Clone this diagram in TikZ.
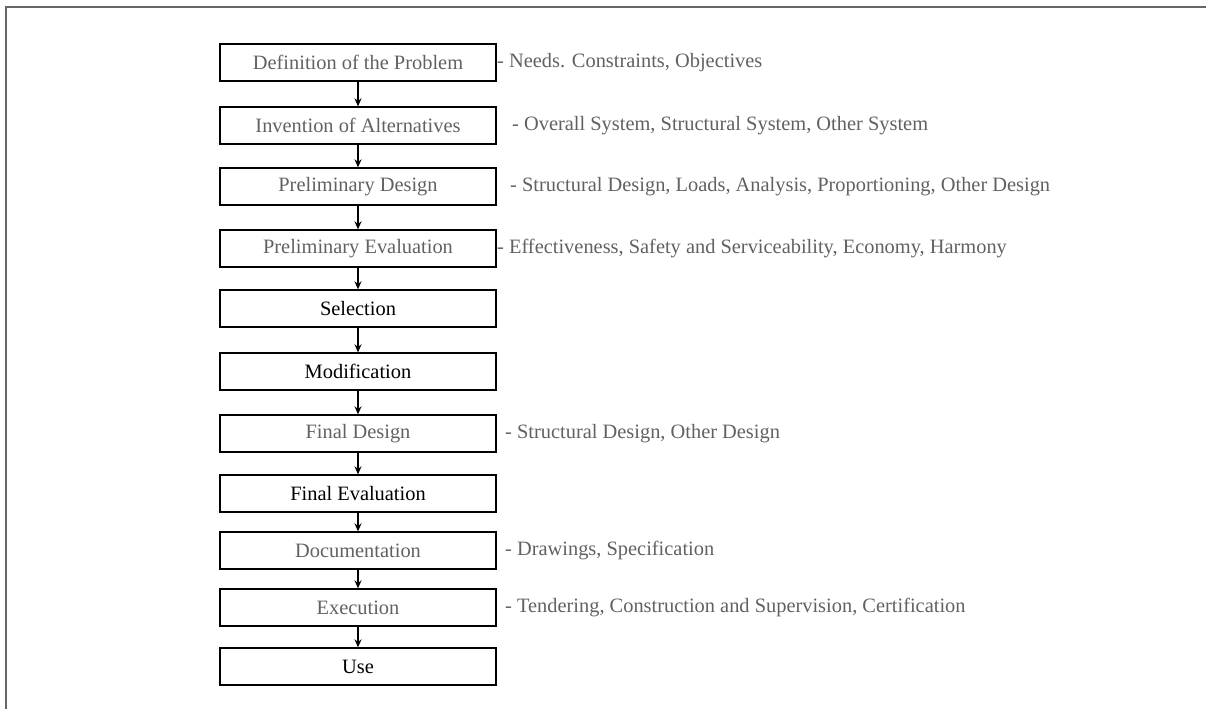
\documentclass[tikz,border=0pt]{standalone}
\usepackage{fontspec}
\setmainfont{Liberation Serif}
\usetikzlibrary{arrows.meta}
\begin{document}
\begin{tikzpicture}[x=1pt,y=-1pt,
  stepbox/.style={draw=black,line width=1.3pt,minimum width=276pt,minimum height=37pt,inner sep=0pt,font=\fontsize{20.4}{24}\selectfont},
  dimtext/.style={text=black!62},
  sidelabel/.style={anchor=west,inner sep=0pt,text=black!62,font=\fontsize{20.4}{24}\selectfont},
  flow/.style={line width=1.3pt,-{Stealth[length=8pt,width=7pt]}},
  frameline/.style={draw=black!60,line width=2pt}]
\useasboundingbox (0,0) rectangle (1206,709);
\draw[frameline] (6,709) -- (6,7) -- (1206,7);
\node[stepbox,dimtext] (def) at (358,62.5) {Definition of the Problem};
\node[stepbox,dimtext] (inv) at (358,125.5) {Invention of Alternatives};
\node[stepbox,dimtext] (pd) at (358,186.5) {Preliminary Design};
\node[stepbox,dimtext] (pe) at (358,248.5) {Preliminary Evaluation};
\node[stepbox] (sel) at (358,308.5) {Selection};
\node[stepbox] (mod) at (358,371.5) {Modification};
\node[stepbox,dimtext] (fd) at (358,433.5) {Final Design};
\node[stepbox] (fe) at (358,493.5) {Final Evaluation};
\node[stepbox,dimtext] (doc) at (358,550.5) {Documentation};
\node[stepbox,dimtext] (exe) at (358,607.5) {Execution};
\node[stepbox] (use) at (358,666.5) {Use};
\foreach \a/\b in {def/inv,inv/pd,pd/pe,pe/sel,sel/mod,mod/fd,fd/fe,fe/doc,doc/exe,exe/use}
  \draw[flow] (\a.south) -- (\b.north);
\node[sidelabel] (ldef) at (497,62.5) {- Needs. Constraints, Objectives};
\node[sidelabel] (linv) at (512,125.5) {- Overall System, Structural System, Other System};
\node[sidelabel] (lpd) at (510,186.5) {- Structural Design, Loads, Analysis, Proportioning, Other Design};
\node[sidelabel] (lpe) at (497,248.5) {- Effectiveness, Safety and Serviceability, Economy, Harmony};
\node[sidelabel] (lfd) at (505,433.5) {- Structural Design, Other Design};
\node[sidelabel] (ldoc) at (505,550.5) {- Drawings, Specification};
\node[sidelabel] (lexe) at (505,607.5) {- Tendering, Construction and Supervision, Certification};
\end{tikzpicture}
\end{document}
